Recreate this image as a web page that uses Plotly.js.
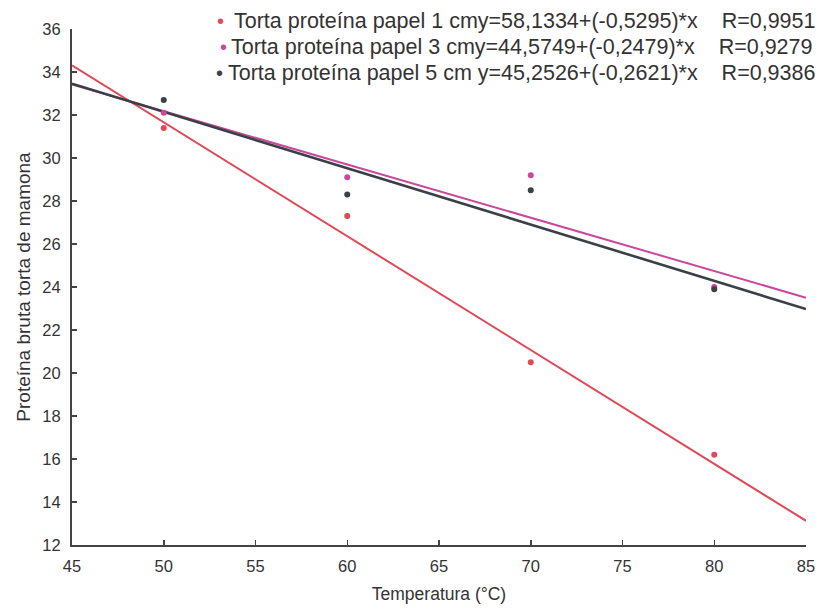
<!DOCTYPE html>
<html>
<head>
<meta charset="utf-8">
<script src="https://cdn.plot.ly/plotly-3.0.1.min.js"></script>
<style>
  html, body { margin: 0; padding: 0; background: #fff; }
  #chart { width: 819px; height: 610px; }
</style>
</head>
<body>
<div id="chart"></div>
<script>
// Temperatures (°C) at which the cake samples were measured
const temperatures = [50, 60, 70, 80];

// Crude protein of castor cake for each paper thickness
const protein1cm = [31.4, 27.3, 20.5, 16.2];
const protein3cm = [32.1, 29.1, 29.2, 24.0];
const protein5cm = [32.7, 28.3, 28.5, 23.9];

// Fitted linear models, y = a + b*x
const seriesNames = ["Torta proteína papel 1 cm", "Torta proteína papel 3 cm", "Torta proteína papel 5 cm"];
const intercepts = [58.1334, 44.5749, 45.2526];
const slopes = [-0.5295, -0.2479, -0.2621];
const rValues = ["0,9951", "0,9279", "0,9386"];
const fitRange = [45, 85];

const colors = ["#e04a58", "#c9489b", "#3b4047"];
const measured = [protein1cm, protein3cm, protein5cm];
const FONT = "Arial, Liberation Sans, sans-serif";

function fmt(v) { return v.toFixed(4).replace(".", ","); }

const traces = [];
// regression lines
[0, 1, 2].forEach(i => {
  traces.push({
    x: fitRange,
    y: fitRange.map(t => intercepts[i] + slopes[i] * t),
    mode: "lines",
    line: { color: colors[i], width: i === 2 ? 2.6 : 2 },
    hoverinfo: "skip",
    showlegend: false
  });
});
// measured points (3 cm before 5 cm so the dark dots sit on top)
[0, 1, 2].forEach(i => {
  traces.push({
    x: temperatures,
    y: measured[i],
    mode: "markers",
    marker: { color: colors[i], size: 6 },
    name: seriesNames[i],
    showlegend: false
  });
});

// legend rows drawn as text with coloured bullets
const plotL = 72, plotR = 806, plotT = 29, plotB = 545;
const px = x => (x - plotL) / (plotR - plotL);
const py = y => (plotB - y) / (plotB - plotT);
const nb = "\u00a0";
const rowY = [21, 47, 73];
const dotX = [220, 223, 219];
const textX = [232, 229, 226];
const joiners = ["", "", nb];
const annotations = [];
[0, 1, 2].forEach(i => {
  const eq = "y=" + fmt(intercepts[i]) + "+(" + fmt(slopes[i]) + ")*x" + nb.repeat(4) + "R=" + rValues[i];
  annotations.push({
    xref: "paper", yref: "paper", x: px(dotX[i]), y: py(rowY[i]),
    xanchor: "center", yanchor: "middle", showarrow: false,
    text: "•", font: { family: FONT, size: 20, color: colors[i] }
  });
  annotations.push({
    xref: "paper", yref: "paper", x: px(textX[i]), y: py(rowY[i]),
    xanchor: "left", yanchor: "middle", showarrow: false,
    text: seriesNames[i] + joiners[i] + eq,
    font: { family: FONT, size: 21.5, color: "#333" }
  });
});

const axisFont = { family: FONT, size: 16.5, color: "#333" };
const layout = {
  width: 819, height: 610,
  margin: { l: plotL, r: 819 - plotR, t: plotT, b: 610 - plotB },
  paper_bgcolor: "#fff", plot_bgcolor: "#fff",
  showlegend: false,
  xaxis: {
    range: [45, 85], tickvals: [45, 50, 55, 60, 65, 70, 75, 80, 85],
    showgrid: false, zeroline: false,
    showline: true, linecolor: "#444", linewidth: 2,
    ticks: "inside", ticklen: 5, tickcolor: "#444", tickwidth: 1.5,
    tickfont: axisFont, ticklabelstandoff: 5,
    title: { text: "Temperatura (°C)", font: { family: FONT, size: 17.5, color: "#333" }, standoff: 14 }
  },
  yaxis: {
    range: [12, 36], tickvals: [12, 14, 16, 18, 20, 22, 24, 26, 28, 30, 32, 34, 36],
    showgrid: false, zeroline: false,
    showline: true, linecolor: "#444", linewidth: 2,
    ticks: "inside", ticklen: 5, tickcolor: "#444", tickwidth: 1.5,
    tickfont: axisFont, ticklabelstandoff: 6,
    title: { text: "Proteína bruta torta de mamona", font: { family: FONT, size: 19, color: "#333" }, standoff: 7 }
  },
  annotations: annotations
};

Plotly.newPlot("chart", traces, layout, { displayModeBar: false, staticPlot: true });
</script>
</body>
</html>
